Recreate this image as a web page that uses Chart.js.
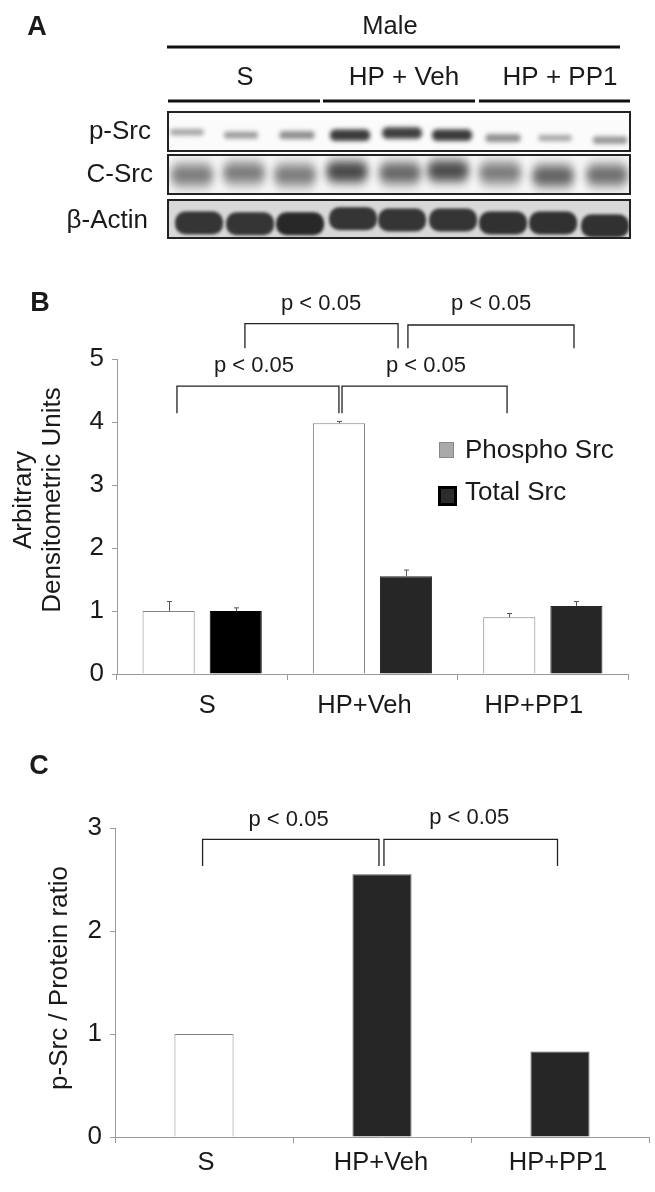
<!DOCTYPE html>
<html>
<head>
<meta charset="utf-8">
<title>Src phosphorylation</title>
<script src="https://cdn.jsdelivr.net/npm/chart.js@4"></script>
<style>
  html, body { margin: 0; padding: 0; background: #fff; }
  #page { position: relative; width: 655px; height: 1192px; overflow: hidden; }
  #page canvas { position: absolute; left: 0; }
</style>
</head>
<body>
<div id="page">
  <canvas id="blots" width="655" height="270" style="top:0"></canvas>
  <canvas id="densitometry" width="655" height="460" style="top:270px"></canvas>
  <canvas id="ratio" width="655" height="462" style="top:730px"></canvas>
</div>
<script>
const categories = ["S", "HP+Veh", "HP+PP1"];

const phosphoSrc = [1.0, 3.98, 0.9];
const totalSrc = [1.0, 1.55, 1.08];
const phosphoErr = [0.15, 0.03, 0.06];
const totalErr = [0.05, 0.1, 0.07];

const ratioValues = [1.0, 2.55, 0.83];

// band position (lane, row) and darkness for each blot row
const pSrcLanes = [-0.2, 0.87, 1.98, 3.03, 4.06, 5.05, 6.06, 7.09, 8.18];
const pSrcRows = [2.52, 2.45, 2.45, 2.45, 2.5, 2.45, 2.38, 2.38, 2.33];
const pSrcDensity = [0.3, 0.35, 0.42, 0.85, 0.82, 0.85, 0.42, 0.28, 0.38];
const cSrcLanes = [-0.1, 0.93, 1.94, 2.97, 4.02, 4.97, 6.0, 7.05, 8.12];
const cSrcRows = [1.5, 1.55, 1.5, 1.58, 1.55, 1.6, 1.55, 1.48, 1.5];
const cSrcDensity = [0.55, 0.55, 0.55, 0.82, 0.66, 0.8, 0.55, 0.68, 0.62];
const actinLanes = [0.04, 1.05, 2.04, 3.09, 4.06, 5.07, 6.06, 7.05, 8.08];
const actinRows = [0.36, 0.34, 0.34, 0.46, 0.43, 0.43, 0.36, 0.36, 0.29];
const actinDensity = [0.93, 0.93, 1.0, 0.93, 0.93, 0.93, 0.95, 0.95, 0.95];

const FONT = '"Liberation Sans", Arial, sans-serif';
const INK = "#1a1a1a";
const DARK_BAR = "#262626";
const AXIS = "#9a9a9a";

const drawText = (ctx, text, x, y, size, align = "center", weight = "normal") => {
  ctx.save();
  ctx.fillStyle = INK;
  ctx.font = `${weight} ${size}px ${FONT}`;
  ctx.textAlign = align;
  ctx.textBaseline = "middle";
  ctx.fillText(text, x, y);
  ctx.restore();
};

const drawRule = (ctx, x1, x2, y, width) => {
  ctx.fillStyle = "#111";
  ctx.fillRect(x1, y - width / 2, x2 - x1, width);
};

// a bracket is given in chart units: category position and axis value
const bracketsPlugin = (brackets) => ({
  id: "brackets",
  afterDraw(chart) {
    const { ctx, scales: { x, y } } = chart;
    ctx.save();
    ctx.strokeStyle = "#222";
    ctx.lineWidth = 1.3;
    brackets.forEach((b) => {
      const left = x.getPixelForValue(b.from);
      const right = x.getPixelForValue(b.to);
      const top = y.getPixelForValue(b.top);
      const bottom = y.getPixelForValue(b.bottom);
      ctx.beginPath();
      ctx.moveTo(left, bottom);
      ctx.lineTo(left, top);
      ctx.lineTo(right, top);
      ctx.lineTo(right, bottom);
      ctx.stroke();
      drawText(ctx, b.label, x.getPixelForValue(b.labelX), y.getPixelForValue(b.labelY), 22);
    });
    ctx.restore();
  },
});

// the reference does not centre its labels on the categories, nor its axis title on the axis
const axisTextPlugin = ({ shifts, labelY, titleLines, titleXs, titleY }) => ({
  id: "axisText",
  afterDraw(chart) {
    const { ctx, scales: { x } } = chart;
    categories.forEach((name, i) => {
      drawText(ctx, name, x.getPixelForValue(i) + shifts[i], labelY, 25.5);
    });
    titleLines.forEach((line, i) => {
      ctx.save();
      ctx.translate(titleXs[i], titleY);
      ctx.rotate(-Math.PI / 2);
      drawText(ctx, line, 0, 0, 26);
      ctx.restore();
    });
  },
});

const errorBarsPlugin = {
  id: "errorBars",
  afterDatasetsDraw(chart) {
    const { ctx, scales: { y } } = chart;
    ctx.save();
    ctx.strokeStyle = "#555";
    ctx.lineWidth = 1;
    chart.data.datasets.forEach((ds, i) => {
      chart.getDatasetMeta(i).data.forEach((bar, j) => {
        const cx = Math.round(bar.x) + 0.5;
        const top = y.getPixelForValue(ds.data[j] + ds.errors[j]);
        ctx.beginPath();
        ctx.moveTo(cx, bar.y);
        ctx.lineTo(cx, top);
        ctx.moveTo(cx - 2.5, top);
        ctx.lineTo(cx + 2.5, top);
        ctx.stroke();
      });
    });
    ctx.restore();
  },
};

const densityNotes = {
  id: "densityNotes",
  afterDraw(chart) {
    const { ctx } = chart;
    drawText(ctx, "B", 40, 34, 27, "center", "bold");
    ctx.fillStyle = "#aaa";
    ctx.strokeStyle = "#888";
    ctx.fillRect(439, 172, 15, 16);
    ctx.strokeRect(439.5, 172.5, 14, 15);
    ctx.fillStyle = "#2c2c2c";
    ctx.strokeStyle = "#000";
    ctx.lineWidth = 3;
    ctx.fillRect(439, 217, 17, 18);
    ctx.strokeRect(439.5, 217.5, 16, 17);
    ctx.lineWidth = 1;
    drawText(ctx, "Phospho Src", 465, 181, 26, "left");
    drawText(ctx, "Total Src", 465, 223, 26, "left");
  },
};

const ratioNotes = {
  id: "ratioNotes",
  afterDraw(chart) {
    drawText(chart.ctx, "C", 39, 37, 27, "center", "bold");
  },
};

const axisOptions = (maxValue, leftWidth, bottomHeight) => ({
  x: {
    offset: true,
    afterFit: (s) => { s.height = bottomHeight; },
    grid: { offset: true, drawOnChartArea: false, color: AXIS, tickLength: 6, tickWidth: 1 },
    border: { color: AXIS },
    ticks: { display: false },
  },
  y: {
    min: 0,
    max: maxValue,
    afterFit: (s) => { s.width = leftWidth; },
    grid: { drawOnChartArea: false, color: AXIS, tickLength: 5, tickWidth: 1 },
    border: { color: AXIS },
    ticks: { stepSize: 1, color: INK, font: { family: FONT, size: 26 }, padding: 8 },
  },
});

Chart.defaults.animation = false;
Chart.defaults.responsive = false;
Chart.defaults.plugins.legend.display = false;
Chart.defaults.plugins.tooltip.enabled = false;

new Chart(document.getElementById("densitometry"), {
  type: "bar",
  data: {
    labels: categories,
    datasets: [
      {
        label: "Phospho Src",
        data: phosphoSrc,
        errors: phosphoErr,
        backgroundColor: "#fff",
        borderColor: "#808080",
        borderWidth: 1,
      },
      {
        label: "Total Src",
        data: totalSrc,
        errors: totalErr,
        backgroundColor: ["#000", DARK_BAR, DARK_BAR],
        borderColor: ["#000", DARK_BAR, DARK_BAR],
        borderWidth: 1,
      },
    ],
  },
  options: {
    categoryPercentage: 0.788,
    barPercentage: 0.776,
    layout: { autoPadding: false, padding: { top: 89, right: 27, left: 0, bottom: 0 } },
    scales: axisOptions(5, 117, 56),
  },
  plugins: [
    errorBarsPlugin,
    densityNotes,
    axisTextPlugin({
      shifts: [5, -8, -9],
      labelY: 436,
      titleLines: ["Arbitrary", "Densitometric Units"],
      titleXs: [24, 53],
      titleY: 230,
    }),
    bracketsPlugin([
      { label: "p < 0.05", from: 0.251, to: 1.15, top: 5.56, bottom: 5.17, labelX: 0.698, labelY: 5.87 },
      { label: "p < 0.05", from: 1.208, to: 2.183, top: 5.54, bottom: 5.17, labelX: 1.696, labelY: 5.87 },
      { label: "p < 0.05", from: -0.148, to: 0.803, top: 4.57, bottom: 4.14, labelX: 0.304, labelY: 4.89 },
      { label: "p < 0.05", from: 0.821, to: 1.79, top: 4.57, bottom: 4.14, labelX: 1.314, labelY: 4.89 },
    ]),
  ],
});

new Chart(document.getElementById("ratio"), {
  type: "bar",
  data: {
    labels: categories,
    datasets: [
      {
        label: "p-Src / Protein ratio",
        data: ratioValues,
        backgroundColor: ["#fff", DARK_BAR, DARK_BAR],
        borderColor: ["#808080", "#555", "#555"],
        borderWidth: 1,
      },
    ],
  },
  options: {
    categoryPercentage: 1,
    barPercentage: 0.332,
    layout: { autoPadding: false, padding: { top: 98, right: 6, left: 0, bottom: 0 } },
    scales: axisOptions(3, 115, 55),
  },
  plugins: [
    ratioNotes,
    axisTextPlugin({
      shifts: [2, -1, -2],
      labelY: 433,
      titleLines: ["p-Src / Protein ratio"],
      titleXs: [60],
      titleY: 248,
    }),
    bracketsPlugin([
      { label: "p < 0.05", from: -0.008, to: 0.983, top: 2.89, bottom: 2.63, labelX: 0.475, labelY: 3.08 },
      { label: "p < 0.05", from: 1.011, to: 1.986, top: 2.89, bottom: 2.63, labelX: 1.49, labelY: 3.1 },
    ]),
  ],
});

// soft band sprite, used as the point image of the blot rows
const makeBand = (w, h, blur, density, base, haze = 0) => {
  const pad = Math.max(blur, 5) * 3 + 2;
  const c = document.createElement("canvas");
  c.width = w + pad * 2;
  c.height = Math.max(h, haze) + pad * 2;
  const g = c.getContext("2d");
  if (haze) {
    g.filter = "blur(5px)";
    g.fillStyle = "rgba(0,0,0,0.2)";
    g.beginPath();
    g.roundRect((c.width - w) / 2, (c.height - haze) / 2, w, haze, 6);
    g.fill();
  }
  g.filter = `blur(${blur}px)`;
  const shade = Math.round(base + (1 - density) * (225 - base));
  g.fillStyle = `rgb(${shade},${shade},${shade})`;
  g.beginPath();
  g.roundRect((c.width - w) / 2, (c.height - h) / 2, w, h, h * 0.45);
  g.fill();
  return c;
};

const rowFrames = [
  { top: 112, bottom: 151, fill: "#fbfbfb" },
  { top: 155, bottom: 194, fill: "#f6f6f6" },
  { top: 200, bottom: 238, fill: "#d8d8d8" },
];

const blotNotes = {
  id: "blotNotes",
  beforeDatasetsDraw(chart) {
    const { ctx, chartArea } = chart;
    rowFrames.forEach((f) => {
      ctx.fillStyle = f.fill;
      ctx.fillRect(chartArea.left, f.top, chartArea.width, f.bottom - f.top);
    });
  },
  afterDatasetsDraw(chart) {
    const { ctx, chartArea } = chart;
    // the gaps between rows stay clean
    ctx.fillStyle = "#fff";
    ctx.fillRect(chartArea.left, 151, chartArea.width, 4);
    ctx.fillRect(chartArea.left, 194, chartArea.width, 6);
    ctx.strokeStyle = "#222";
    ctx.lineWidth = 2;
    rowFrames.forEach((f) => {
      ctx.strokeRect(chartArea.left, f.top, chartArea.width, f.bottom - f.top);
    });
    drawText(ctx, "A", 37, 28, 27, "center", "bold");
    drawText(ctx, "Male", 390, 27, 25.5);
    drawRule(ctx, 167, 620, 47, 3);
    drawText(ctx, "S", 245, 78, 25.5);
    drawText(ctx, "HP + Veh", 404, 78, 26);
    drawText(ctx, "HP + PP1", 560, 78, 26);
    drawRule(ctx, 168, 320, 101, 3);
    drawRule(ctx, 323, 475, 101, 3);
    drawRule(ctx, 479, 630, 101, 3);
    drawText(ctx, "p-Src", 151, 132, 26, "right");
    drawText(ctx, "C-Src", 153, 175, 26, "right");
    drawText(ctx, "β-Actin", 148, 221, 26, "right");
  },
};

const rowPoints = (lanes, rows) => lanes.map((x, i) => ({ x, y: rows[i] }));

new Chart(document.getElementById("blots"), {
  type: "scatter",
  data: {
    datasets: [
      {
        label: "p-Src",
        data: rowPoints(pSrcLanes, pSrcRows),
        pointStyle: pSrcDensity.map((d) => makeBand(30 + 12 * d, 4 + 9 * d, 2.2, d, 30)),
      },
      {
        label: "C-Src",
        data: rowPoints(cSrcLanes, cSrcRows),
        pointStyle: cSrcDensity.map((d) => makeBand(40, 10 + 10 * d, 4, d, 40, 30)),
      },
      {
        label: "β-Actin",
        data: rowPoints(actinLanes, actinRows),
        pointStyle: actinDensity.map((d) => makeBand(48, 23, 1.8, d, 40)),
      },
    ],
  },
  options: {
    layout: { autoPadding: false, padding: { left: 168, right: 25, top: 112, bottom: 32 } },
    scales: {
      x: { display: false, min: -0.574, max: 8.574 },
      y: { display: false, min: 0, max: 3 },
    },
  },
  plugins: [blotNotes],
});
</script>
</body>
</html>
